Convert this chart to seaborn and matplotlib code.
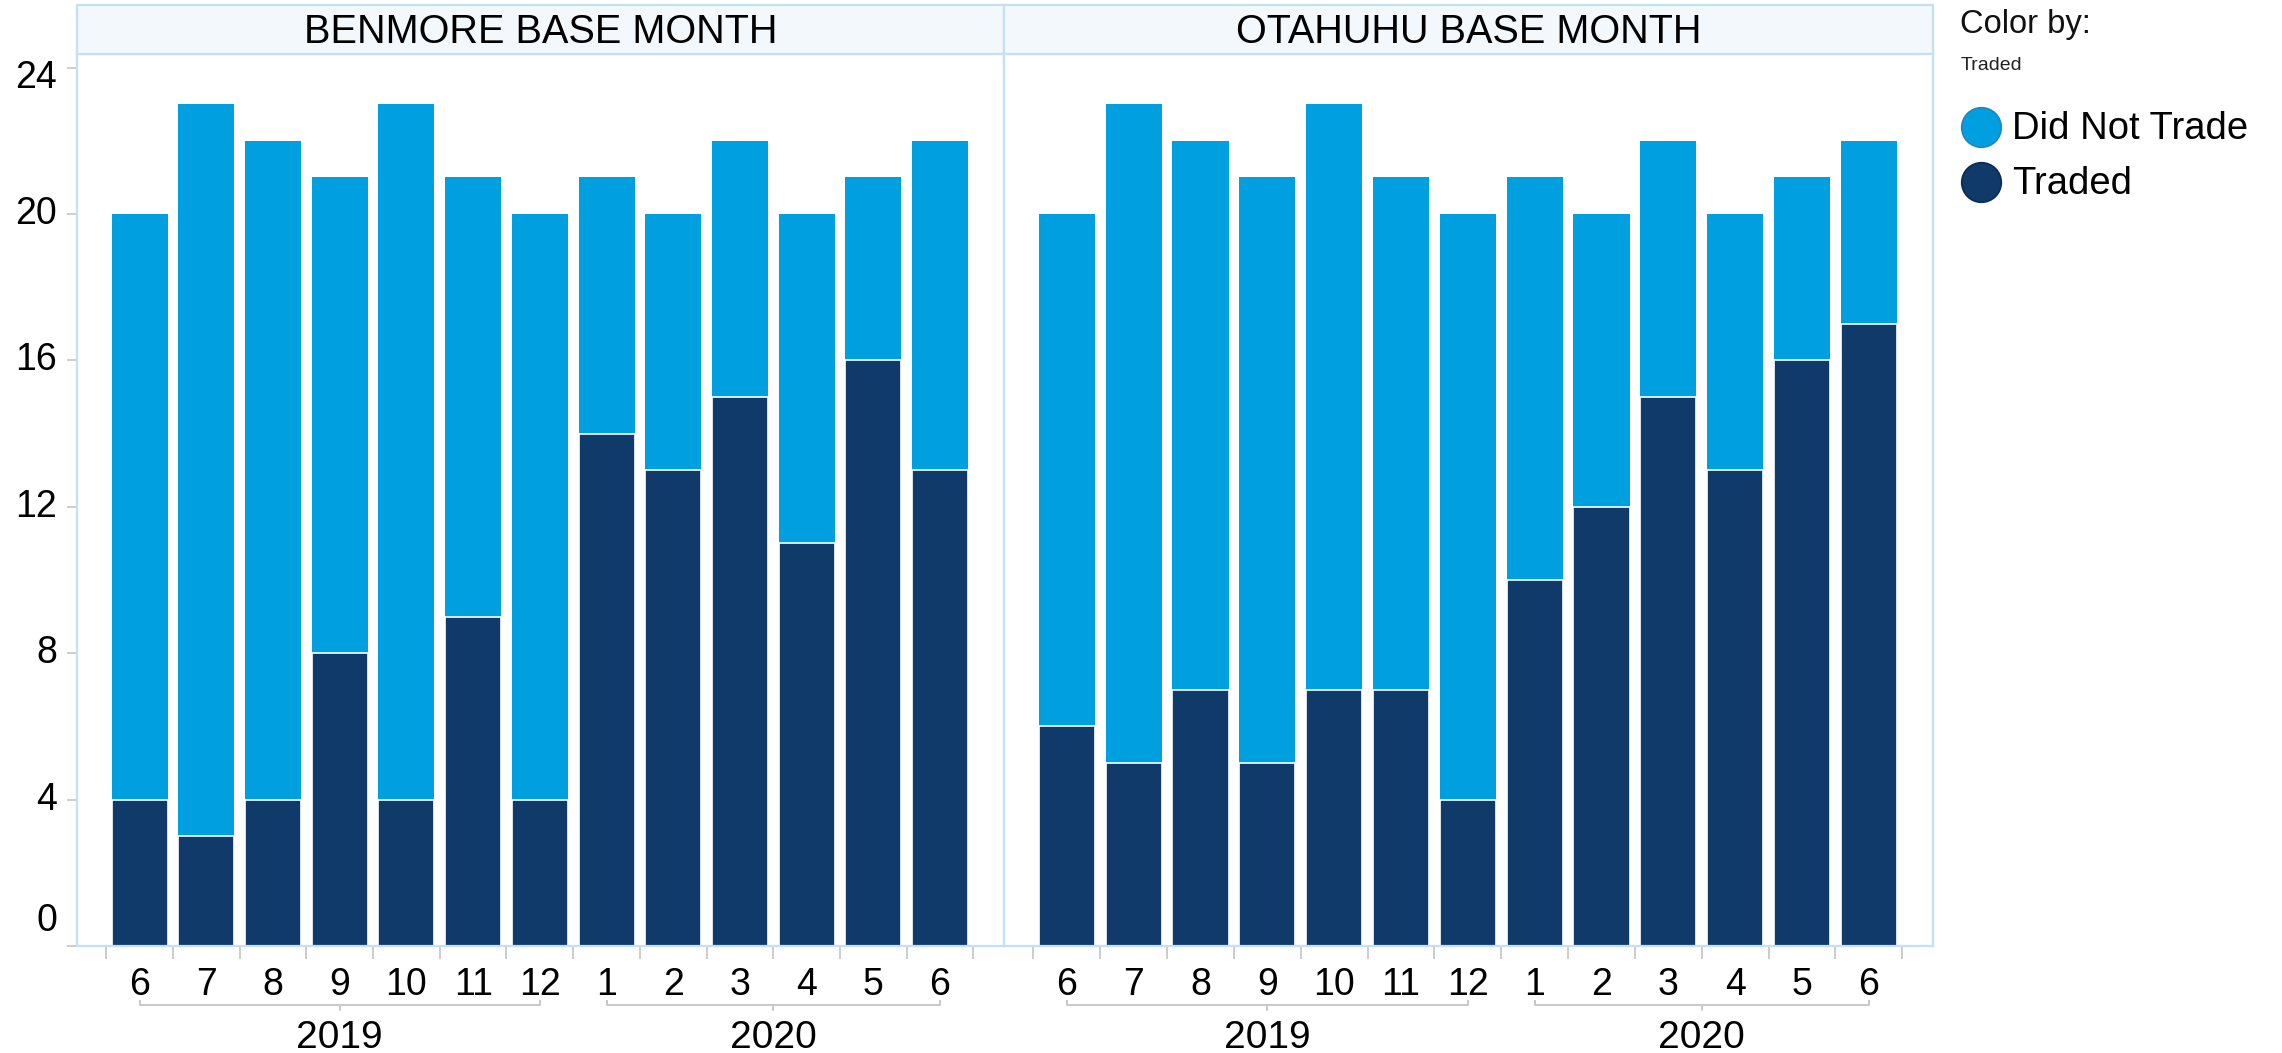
import matplotlib
matplotlib.use("Agg")
import matplotlib.pyplot as plt
import matplotlib.transforms as mtransforms
import seaborn as sns
import pandas as pd
import numpy as np

sns.set_theme(style="white")
plt.rcParams['font.family'] = ['Liberation Sans', 'DejaVu Sans']

# ---------------- data ----------------
months = ["6", "7", "8", "9", "10", "11", "12", "1", "2", "3", "4", "5", "6"]
years = ["2019"] * 7 + ["2020"] * 6
panels = ["BENMORE BASE MONTH", "OTAHUHU BASE MONTH"]
benmore_traded = [4, 3, 4, 8, 4, 9, 4, 14, 13, 15, 11, 16, 13]
benmore_not_traded = [16, 20, 18, 13, 19, 12, 16, 7, 7, 7, 9, 5, 9]
otahuhu_traded = [6, 5, 7, 5, 7, 7, 4, 10, 12, 15, 13, 16, 17]
otahuhu_not_traded = [14, 18, 15, 16, 16, 14, 16, 11, 8, 7, 7, 5, 5]
y_ticks = [0, 4, 8, 12, 16, 20, 24]

C_NOT = "#009FDF"
C_TRD = "#0F3A6A"
BORDER = "#C3E0F4"
GRAY = "#C8C8C8"

W, H = 2282, 1053
fig = plt.figure(figsize=(W / 100, H / 100), dpi=100)

def fx(px):
    return px / W

def fy(py):
    return 1 - py / H

plot_top, plot_bot = 54, 946
hdr_top = 5
panel_x = [(77, 1004), (1004, 1933)]
series = [(benmore_traded, benmore_not_traded), (otahuhu_traded, otahuhu_not_traded)]

def yfrac(py):
    return (plot_bot - py) / (plot_bot - plot_top)

n = len(months)
for i, ((x0, x1), (trd, notr)) in enumerate(zip(panel_x, series)):
    ax = fig.add_axes([fx(x0), fy(plot_bot), fx(x1 - x0), (plot_bot - plot_top) / H])
    df = pd.DataFrame({
        "pos": list(range(n)),
        "traded": trd,
        "total": [a + b for a, b in zip(trd, notr)],
    })
    sns.barplot(data=df, x="pos", y="total", color=C_NOT, saturation=1,
                width=0.84, edgecolor="white", linewidth=0, ax=ax)
    sns.barplot(data=df, x="pos", y="traded", color=C_TRD, saturation=1,
                width=0.84, edgecolor="white", linewidth=1.2, ax=ax)
    ax.set_xlim(-0.94, n - 0.5 + 0.46)
    ax.set_ylim(0, 24.37)
    ax.set_xlabel("")
    ax.set_ylabel("")
    for s in ax.spines.values():
        s.set_color(BORDER)
        s.set_linewidth(1.6)

    # x ticks: boundaries (minor, gray), labels at centers (major, no length)
    ax.set_xticks(range(n))
    ax.set_xticklabels(months, fontsize=27, color="black")
    ax.tick_params(axis="x", which="major", length=0, pad=15)
    ax.set_xticks(np.arange(-0.5, n, 1.0), minor=True)
    ax.tick_params(axis="x", which="minor", length=9, width=1.3, color=GRAY,
                   direction="out", bottom=True)

    ax.set_yticks(y_ticks)
    ax.set_yticklabels([])
    if i == 0:
        ax.tick_params(axis="y", length=7, width=1.3, color=GRAY, left=True)
        ytr = ax.get_yaxis_transform()
        for v in y_ticks:
            dy = 0.0
            if v == y_ticks[0]:
                dy = 25 / 100
            elif v == y_ticks[-1]:
                dy = -10 / 100
            tr = ytr + mtransforms.ScaledTranslation(0, dy, fig.dpi_scale_trans)
            ax.text((57 - 77) / (x1 - x0), v, str(v), transform=tr, ha="right",
                    va="center", fontsize=27, color="black")
    else:
        ax.tick_params(axis="y", length=0)

    # year brackets
    trans = ax.get_xaxis_transform()
    for yr in ["2019", "2020"]:
        idx = [k for k, v in enumerate(years) if v == yr]
        a, b = idx[0], idx[-1]
        m = (a + b) / 2
        yb = yfrac(1005)
        ax.plot([a, a, b, b], [yfrac(1000), yb, yb, yfrac(1000)], color=GRAY, lw=1.4,
                transform=trans, clip_on=False, solid_capstyle="butt")
        ax.plot([m, m], [yb, yfrac(1010)], color=GRAY, lw=1.4, transform=trans, clip_on=False)
        ax.text(m, yfrac(1038), yr, transform=trans, ha="center", va="center",
                fontsize=28, color="black")

    # header strip
    hax = fig.add_axes([fx(x0), fy(plot_top), fx(x1 - x0), (plot_top - hdr_top) / H])
    hax.set_facecolor("#F3F8FD")
    hax.set_xticks([])
    hax.set_yticks([])
    for s in hax.spines.values():
        s.set_color(BORDER)
        s.set_linewidth(1.6)
    hax.text(0.5, 0.45, panels[i], ha="center", va="center", fontsize=28.5,
             color="black", transform=hax.transAxes)

# legend
lax = fig.add_axes([0, 0, 1, 1])
lax.set_xlim(0, W)
lax.set_ylim(H, 0)
lax.axis("off")
lax.patch.set_alpha(0)
lax.text(1960, 25, "Color by:", fontsize=23.5, va="center", ha="left", color="#111111")
lax.text(1961, 65, "Traded", fontsize=14, va="center", ha="left", color="#222222")
for yc, col, ec, lab in [(127, C_NOT, "#1E86BE", "Did Not Trade"),
                         (182, C_TRD, "#0A2B52", "Traded")]:
    lax.plot([1981], [yc], marker="o", markersize=28.5, color=col,
             markeredgecolor=ec, markeredgewidth=1.2, linestyle="none")
    lax.text(2012, yc + 2, lab, fontsize=27.5, va="center", ha="left", color="black")

fig.savefig("out.png", dpi=100)
